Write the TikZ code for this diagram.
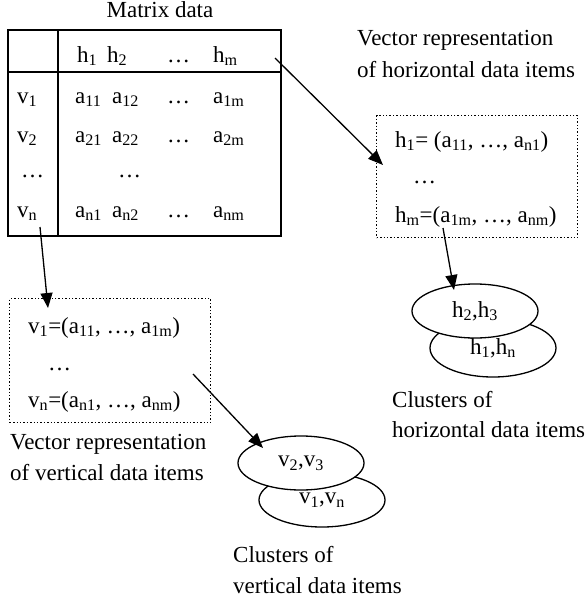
\documentclass[tikz,border=0pt]{standalone}
\usepackage{fontspec}
\setmainfont{Liberation Serif}
\usetikzlibrary{arrows.meta,shapes.geometric}
\newcommand\lowix[1]{\textsubscript{#1}}
\begin{document}
\begin{tikzpicture}[x=1pt,y=-1pt,
  every node/.style={font=\fontsize{23}{31}\selectfont, inner sep=0pt},
  txt/.style={anchor=base west},
  frame/.style={line width=1.6pt},
  vecbox/.style={draw, dotted, line width=1.4pt},
  flow/.style={line width=1.3pt, -{Triangle[length=15pt,width=12pt]}},
  cluster/.style={draw, ellipse, line width=1.3pt, fill=white,
    minimum width=126pt, minimum height=54pt}]
\useasboundingbox (0,0) rectangle (587,603);

% matrix table
\node[anchor=base] (title) at (160,17) {Matrix data};
\node[frame, draw, anchor=north west, minimum width=273pt, minimum height=206pt] (tbl) at (7,29) {};
\draw[frame] (58,29) -- (58,235);
\draw[frame] (7,72) -- (280,72);
\node[txt] (c1) at (77,62) {h\lowix{1}};
\node[txt] (c2) at (107,62) {h\lowix{2}};
\node[txt] (c3) at (167,62) {\dots};
\node[txt] (c4) at (213,62) {h\lowix{m}};
\node[txt] (r1) at (17,103) {v\lowix{1}};
\node[txt] (r2) at (17,142) {v\lowix{2}};
\node[txt] (r3) at (21,177) {\dots};
\node[txt] (r4) at (17,217) {v\lowix{n}};
\node[txt] (e11) at (75,103) {a\lowix{11}};
\node[txt] (e12) at (112,103) {a\lowix{12}};
\node[txt] (e13) at (167,103) {\dots};
\node[txt] (e14) at (213,103) {a\lowix{1m}};
\node[txt] (e21) at (75,142) {a\lowix{21}};
\node[txt] (e22) at (112,142) {a\lowix{22}};
\node[txt] (e23) at (167,142) {\dots};
\node[txt] (e24) at (213,142) {a\lowix{2m}};
\node[txt] (e32) at (118,177) {\dots};
\node[txt] (e41) at (75,217) {a\lowix{n1}};
\node[txt] (e42) at (112,217) {a\lowix{n2}};
\node[txt] (e43) at (167,217) {\dots};
\node[txt] (e44) at (213,217) {a\lowix{nm}};

% horizontal vectors
\node[txt] (hcap1) at (357,45) {Vector representation};
\node[txt] (hcap2) at (357,77) {of horizontal data items};
\node[vecbox, anchor=north west, minimum width=201pt, minimum height=122pt] (hbox) at (376,115) {};
\node[txt] (hv1) at (395,147) {h\lowix{1}= (a\lowix{11}, \dots, a\lowix{n1})};
\node[txt] (hv2) at (413,183) {\dots};
\node[txt] (hv3) at (395,222) {h\lowix{m}=(a\lowix{1m}, \dots, a\lowix{nm})};

% horizontal clusters
\node[cluster, minimum height=58pt] (hcl2) at (493,348) {h\lowix{1},h\lowix{n}};
\node[cluster] (hcl1) at (475,311) {h\lowix{2},h\lowix{3}};
\node[txt] (hcc1) at (392,407) {Clusters of};
\node[txt] (hcc2) at (392,437) {horizontal data items};

% vertical vectors
\node[vecbox, anchor=north west, minimum width=201pt, minimum height=124pt] (vbox) at (9,298) {};
\node[txt] (vv1) at (28,333) {v\lowix{1}=(a\lowix{11}, \dots, a\lowix{1m})};
\node[txt] (vv2) at (48,370) {\dots};
\node[txt] (vv3) at (28,407) {v\lowix{n}=(a\lowix{n1}, \dots, a\lowix{nm})};
\node[txt] (vcap1) at (10,449) {Vector representation};
\node[txt] (vcap2) at (10,480) {of vertical data items};

% vertical clusters
\node[cluster] (vcl2) at (322,500) {v\lowix{1},v\lowix{n}};
\node[cluster] (vcl1) at (301,463) {v\lowix{2},v\lowix{3}};
\node[txt] (vcc1) at (233,562) {Clusters of};
\node[txt] (vcc2) at (233,593) {vertical data items};

% connectors
\coordinate (p1) at (275,58);
\coordinate (q1) at (383,165);
\coordinate (p2) at (443,228);
\coordinate (q2) at (454,290);
\coordinate (p3) at (40,227);
\coordinate (q3) at (48,308);
\coordinate (p4) at (193,374);
\coordinate (q4) at (263,448);
\draw[flow] (p1) -- (q1);
\draw[flow] (p2) -- (q2);
\draw[flow] (p3) -- (q3);
\draw[flow] (p4) -- (q4);
\end{tikzpicture}
\end{document}
